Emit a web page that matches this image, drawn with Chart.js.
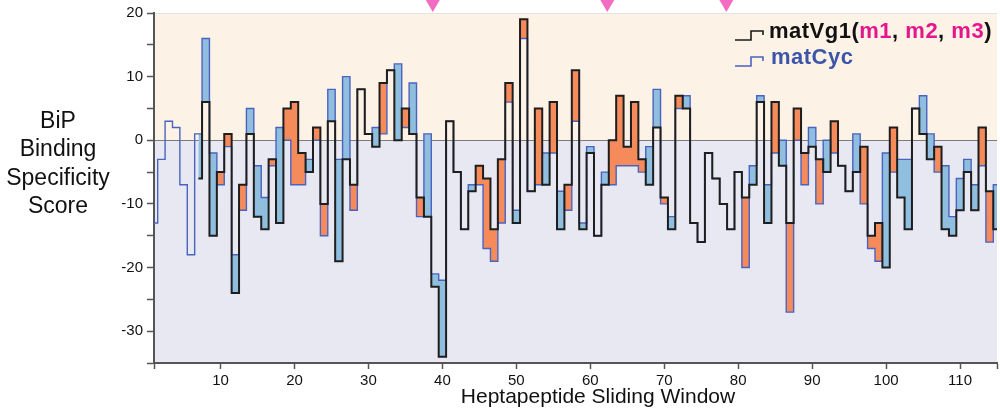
<!DOCTYPE html>
<html>
<head>
<meta charset="utf-8">
<title>BiP Binding Specificity Score</title>
<script src="https://cdn.jsdelivr.net/npm/chart.js@4.4.1/dist/chart.umd.min.js"></script>
<style>
  html, body { margin: 0; padding: 0; background: #fff; }
  #wrap { width: 1000px; height: 412px; position: relative; }
</style>
</head>
<body>
<div id="wrap"><canvas id="bipChart"></canvas></div>
<script>
// window number of the first entry in each series
const firstWindow = 1;

// matVg1 scores per heptapeptide window (no score for windows 1-6)
const matVg1 = [
  null, null, null, null, null, null, -6, 6, -15, -5,
  1, -24, -7, 1, -12, -14, -3, -13, 5, 6,
  -2, -5, 2, -10, 3, -19, -3, -7, 8, 1,
  -1, 9, 11, 0, 5, 1, -9, -12, -23, -34,
  3, -5, -14, -8, -4, -6, -14, -3, 9, -13,
  19, -8, 5, -7, 6, -14, -7, 11, -14, -2,
  -15, -7, 0, 7, -1, 6, -3, -7, 2, -9,
  -14, 7, 5, -13, -16, -2, -6, -10, -14, -5,
  -9, -7, 6, -13, 6, -4, -13, 5, -2, -1,
  -3, -5, 3, -4, -8, -5, -1, -15, -13, -20,
  2, -9, -14, 5, 1, -3, -1, -14, -15, -11,
  -5, -11, 2, -8, -14
];

// matCyc scores per heptapeptide window
const matCyc = [
  -13, -3, 3, 2, -7, -18, 1, 16, -2, -7,
  -1, -18, -11, 5, -4, -9, -4, 2, 0, -7,
  -7, -3, 0, -15, 8, -3, 10, -11, 8, 1,
  2, 1, 11, 12, 2, 9, -12, 1, -21, -22,
  3, -5, -14, -7, -7, -17, -19, -13, 6, -11,
  16, -8, -7, -2, -2, -8, -11, 3, -13, -1,
  -15, -5, -7, -4, -4, -4, -5, -1, 8, -10,
  -12, 5, 7, -13, -16, -2, -6, -10, -14, -5,
  -20, -4, 7, -7, -2, 0, -27, 0, -7, 2,
  -10, 0, -2, -4, -8, 1, -10, -17, -19, -2,
  -5, -3, -3, 5, 7, 1, -5, -4, -12, -6,
  -3, -7, -4, -16, -7
];

// windows of the m1, m2, m3 mutations (pink markers on top)
const mutationSites = [38.7, 62.3, 78.4];

// tick positions (ends get a mark but no label)
const xTickValues = [1, 10, 20, 30, 40, 50, 60, 70, 80, 90, 100, 110, 115];
const yTickValues = [-35, -30, -25, -20, -15, -10, -5, 0, 5, 10, 15, 20];

const FONT = '"Liberation Sans", Arial, Helvetica, sans-serif';
const ORANGE_FILL = '#f58b5b';
const BLUE_FILL = '#8fbedf';
const CYC_BLUE = '#4a63bf';
const PINK = '#e5168c';

Chart.defaults.font.family = FONT;

const windows = matCyc.map((_, k) => firstWindow + k);
const toPoints = vals => vals
  .map((v, k) => ({ x: windows[k], y: v }))
  .filter(p => p.y !== null);

// peach above zero, lavender below, thin zero line
const backgroundPlugin = {
  id: 'halfShade',
  beforeDraw(chart) {
    const { ctx, chartArea: a, scales: { y } } = chart;
    const y0 = y.getPixelForValue(0);
    ctx.save();
    ctx.fillStyle = '#fdf2e6';
    ctx.fillRect(a.left, a.top, a.width, y0 - a.top);
    ctx.fillStyle = '#e8e8f3';
    ctx.fillRect(a.left, y0, a.width, a.bottom - y0);
    ctx.strokeStyle = '#e2e2e2';
    ctx.lineWidth = 1;
    ctx.beginPath();
    ctx.moveTo(a.left, a.top + 0.5);
    ctx.lineTo(a.right, a.top + 0.5);
    ctx.stroke();
    ctx.strokeStyle = '#7c7c7c';
    ctx.beginPath();
    ctx.moveTo(a.left, Math.round(y0) + 0.5);
    ctx.lineTo(a.right, Math.round(y0) + 0.5);
    ctx.stroke();
    ctx.restore();
  }
};

function stepIcon(ctx, x, y, color) {
  ctx.strokeStyle = color;
  ctx.lineWidth = 1.6;
  ctx.beginPath();
  ctx.moveTo(x, y);
  ctx.lineTo(x + 16, y);
  ctx.lineTo(x + 16, y - 9);
  ctx.lineTo(x + 28, y - 9);
  ctx.lineTo(x + 28, y - 5);
  ctx.stroke();
}

// y title, x title, legend and the mutation markers
const labelPlugin = {
  id: 'labels',
  afterDraw(chart) {
    const { ctx, chartArea: a, scales: { x } } = chart;
    ctx.save();
    ctx.fillStyle = '#111';
    ctx.font = '23px ' + FONT;
    ctx.textAlign = 'center';
    ctx.textBaseline = 'alphabetic';
    ['BiP', 'Binding', 'Specificity', 'Score'].forEach((t, k) => {
      ctx.fillText(t, 58, 128 + k * 28.3);
    });

    ctx.font = '21px ' + FONT;
    ctx.textBaseline = 'middle';
    ctx.fillText('Heptapeptide Sliding Window', 598, 397);

    ctx.textAlign = 'left';
    ctx.textBaseline = 'alphabetic';
    ctx.font = 'bold 22px ' + FONT;
    if ('letterSpacing' in ctx) ctx.letterSpacing = '0.5px';
    stepIcon(ctx, 735, 40, '#1a1a1a');
    let tx = 769;
    const parts = [['matVg1(', '#111'], ['m1', PINK], [', ', '#111'], ['m2', PINK],
                   [', ', '#111'], ['m3', PINK], [')', '#111']];
    for (const [t, c] of parts) {
      ctx.fillStyle = c;
      ctx.fillText(t, tx, 38);
      tx += ctx.measureText(t).width;
    }
    stepIcon(ctx, 735, 66, CYC_BLUE);
    ctx.fillStyle = '#3c55a8';
    ctx.fillText('matCyc', 771, 64);

    // downward pink triangles just above the plot
    ctx.fillStyle = '#f26cc2';
    for (const site of mutationSites) {
      const px = x.getPixelForValue(site);
      ctx.beginPath();
      ctx.moveTo(px - 7, a.top - 13);
      ctx.lineTo(px + 7, a.top - 13);
      ctx.lineTo(px, a.top - 1);
      ctx.closePath();
      ctx.fill();
    }
    ctx.restore();
  }
};

new Chart(document.getElementById('bipChart'), {
  type: 'line',
  data: {
    datasets: [
      {
        label: 'matVg1',
        data: toPoints(matVg1),
        borderColor: '#1e1e1e',
        borderWidth: 2,
        stepped: 'middle',
        pointRadius: 0,
        fill: { target: 1, above: ORANGE_FILL, below: BLUE_FILL },
        order: 1
      },
      {
        label: 'matCyc',
        data: toPoints(matCyc),
        borderColor: CYC_BLUE,
        borderWidth: 1.4,
        stepped: 'middle',
        pointRadius: 0,
        fill: false,
        order: 2
      }
    ]
  },
  options: {
    responsive: true,
    maintainAspectRatio: false,
    animation: false,
    events: [],
    layout: { padding: { top: 13, right: 2, left: 0, bottom: 0 } },
    plugins: {
      legend: { display: false },
      tooltip: { enabled: false },
      filler: { drawTime: 'beforeDatasetsDraw' }
    },
    scales: {
      x: {
        type: 'linear',
        min: 1,
        max: 115,
        afterBuildTicks: s => { s.ticks = xTickValues.map(v => ({ value: v })); },
        ticks: {
          autoSkip: false,
          maxRotation: 0,
          padding: 3,
          color: '#111',
          font: { size: 15 },
          callback: v => (v % 10 === 0 ? v : '')
        },
        grid: { drawOnChartArea: false, tickLength: 6, color: '#555', tickWidth: 1.5 },
        border: { color: '#555', width: 2 },
        afterFit: s => { s.height = 49; }
      },
      y: {
        min: -35,
        max: 20,
        afterBuildTicks: s => { s.ticks = yTickValues.map(v => ({ value: v })); },
        ticks: {
          padding: 4,
          color: '#111',
          font: { size: 15 },
          callback: v => (v % 10 === 0 ? v : '')
        },
        grid: { drawOnChartArea: false, tickLength: 7, color: '#555', tickWidth: 1.5 },
        border: { color: '#555', width: 2 },
        afterFit: s => { s.width = 154; }
      }
    }
  },
  plugins: [backgroundPlugin, labelPlugin]
});
</script>
</body>
</html>
